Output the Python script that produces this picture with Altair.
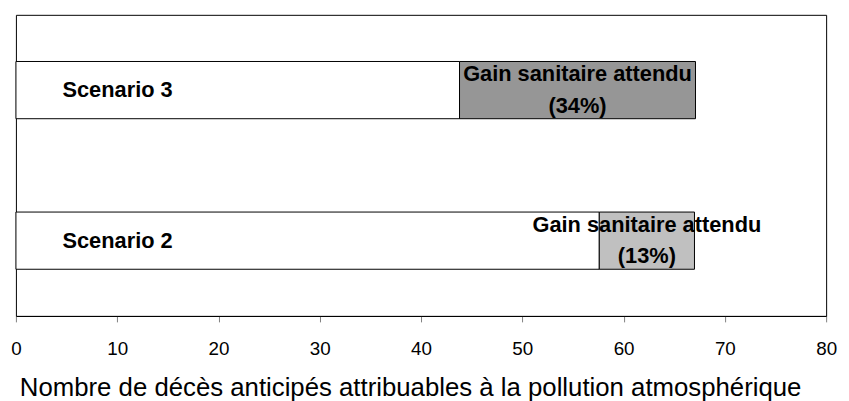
import altair as alt
import pandas as pd

scenarios = ["Scenario 3", "Scenario 2"]
baseline_deaths = [43.8, 57.6]
total_deaths = [67.1, 67.0]
gain_labels = ["(34%)", "(13%)"]
gain_colors = ["#969696", "#c0c0c0"]
x_ticks = [0, 10, 20, 30, 40, 50, 60, 70, 80]
x_title = "Nombre de décès anticipés attribuables à la pollution atmosphérique"

rows = []
for s, b, t, c in zip(scenarios, baseline_deaths, total_deaths, gain_colors):
    rows.append({"scenario": s, "start": 0, "end": b, "fill": "#ffffff"})
    rows.append({"scenario": s, "start": b, "end": t, "fill": c})
seg = pd.DataFrame(rows)

lab = pd.DataFrame({
    "scenario": scenarios,
    "zero": [0, 0],
    "mid": [(b + t) / 2 for b, t in zip(baseline_deaths, total_deaths)],
    "text": [["Gain sanitaire attendu", g] for g in gain_labels],
})

FONT = "Liberation Sans"
yenc = alt.Y("scenario:N", sort=scenarios,
             scale=alt.Scale(paddingInner=0.62, paddingOuter=0.31), axis=None)

bars = alt.Chart(seg).mark_bar(stroke="#000000", strokeWidth=1).encode(
    x=alt.X("start:Q", scale=alt.Scale(domain=[0, 80], nice=False),
            axis=alt.Axis(values=x_ticks, title=x_title, grid=False,
                          tickColor="#808080", domainColor="#000000", tickSize=6,
                          labelFontSize=19, labelPadding=18, labelColor="#000000",
                          labelFlush=False, labelOverlap=False,
                          labelFont=FONT, titleFont=FONT, titleFontSize=26,
                          titleFontWeight="normal", titleColor="#000000",
                          titleAlign="center", titleAnchor="middle", titleX=398,
                          titlePadding=16)),
    x2="end:Q",
    y=yenc,
    fill=alt.Fill("fill:N", scale=None),
)

names = alt.Chart(lab).mark_text(align="left", baseline="middle", dx=47,
                                 font=FONT, fontSize=22, fontWeight="bold",
                                 color="#000000").encode(
    x="zero:Q", y=yenc, text="scenario:N")

gains = alt.Chart(lab).mark_text(align="center", baseline="middle", dy=-16,
                                 font=FONT, fontSize=22, fontWeight="bold",
                                 lineHeight=32, color="#000000").encode(
    x="mid:Q", y=yenc, text="text")

chart = alt.layer(bars, names, gains).properties(
    width=818, height=304,
    autosize=alt.AutoSizeParams(type="none"),
    padding={"left": 8, "top": 5, "right": 15, "bottom": 84},
).configure_view(stroke="#000000", strokeWidth=1)

chart.save("out.html", embed_options={"renderer": "svg", "actions": False})
